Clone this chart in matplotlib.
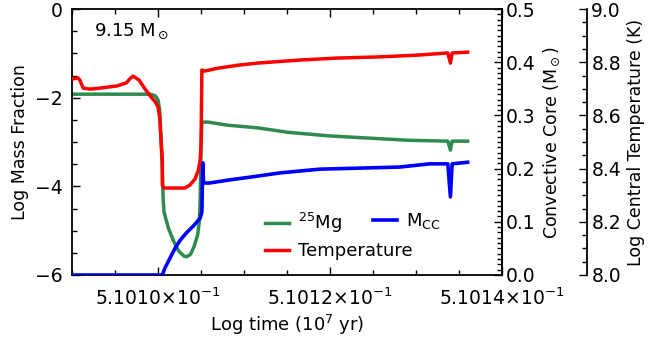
import numpy as np
import matplotlib.pyplot as plt
from matplotlib.ticker import MultipleLocator, AutoMinorLocator, FuncFormatter

# 25Mg log mass fraction (left axis)
mg_time = [0.5100900, 0.5100991, 0.5100997, 0.5101000, 0.5101002, 0.5101003, 0.5101005,
           0.5101006, 0.5101007, 0.5101012, 0.5101018, 0.5101024, 0.5101030, 0.5101033,
           0.5101038, 0.5101042, 0.5101046, 0.5101048, 0.5101049, 0.5101050, 0.5101051,
           0.5101058, 0.5101081, 0.5101116, 0.5101151, 0.5101198, 0.5101244, 0.5101291,
           0.5101337, 0.5101340, 0.5101342, 0.5101360]
mg_logx = [-1.92, -1.92, -1.96, -2.05, -2.28, -2.73, -3.63,
           -4.31, -4.58, -4.94, -5.23, -5.46, -5.57, -5.59,
           -5.53, -5.35, -5.10, -4.80, -4.31, -3.18, -2.55,
           -2.55, -2.62, -2.68, -2.78, -2.86, -2.91, -2.96,
           -2.98, -3.18, -2.98, -2.98]

# log central temperature (third axis)
t_time = [0.5100900, 0.5100907, 0.5100909, 0.5100913, 0.5100921, 0.5100933, 0.5100952,
          0.5100963, 0.5100967, 0.5100971, 0.5100978, 0.5100985, 0.5100991, 0.5100997,
          0.5101000, 0.5101002, 0.5101003, 0.5101005, 0.5101005, 0.5101007, 0.5101031,
          0.5101037, 0.5101043, 0.5101047, 0.5101049, 0.5101050, 0.5101051, 0.5101054,
          0.5101070, 0.5101093, 0.5101116, 0.5101163, 0.5101209, 0.5101256, 0.5101302,
          0.5101337, 0.5101340, 0.5101342, 0.5101360]
t_logtc = [8.737, 8.741, 8.733, 8.703, 8.699, 8.703, 8.711,
           8.722, 8.737, 8.748, 8.733, 8.699, 8.673, 8.650,
           8.632, 8.590, 8.534, 8.432, 8.338, 8.327, 8.327,
           8.338, 8.361, 8.395, 8.432, 8.489, 8.771, 8.767,
           8.778, 8.789, 8.797, 8.808, 8.816, 8.820, 8.827,
           8.835, 8.797, 8.835, 8.838]

# convective core mass (right axis)
cc_time = [0.5100900, 0.5101005, 0.5101008, 0.5101014, 0.5101020, 0.5101026, 0.5101034,
           0.5101041, 0.5101049, 0.5101051, 0.5101052, 0.5101053, 0.5101060, 0.5101084,
           0.5101107, 0.5101142, 0.5101188, 0.5101235, 0.5101281, 0.5101316, 0.5101337,
           0.5101340, 0.5101342, 0.5101360]
cc_mass = [0.0, 0.0, 0.013, 0.032, 0.051, 0.066, 0.081,
           0.092, 0.107, 0.118, 0.211, 0.173, 0.173, 0.179,
           0.184, 0.192, 0.199, 0.201, 0.203, 0.209, 0.209,
           0.147, 0.209, 0.212]

green = '#2e8b4f'
tick_fs = 13.5
label_fs = 12.5

fig, ax = plt.subplots(figsize=(6.49, 3.37), dpi=100)
fig.subplots_adjust(left=0.111, right=0.7735, bottom=0.184, top=0.973)
ax2 = ax.twinx()
ax3 = ax.twinx()
ax3.spines['right'].set_position(('axes', 1.198))
for a in (ax2, ax3):
    a.spines['top'].set_visible(False)
    a.spines['bottom'].set_visible(False)
    a.spines['left'].set_visible(False)

l1, = ax.plot(mg_time, mg_logx, color=green, lw=2.5, label=r'$^{25}$Mg')
l2, = ax2.plot(cc_time, cc_mass, color='#0000ff', lw=2.6, label=r'M$_{\mathrm{CC}}$')
l3, = ax3.plot(t_time, t_logtc, color='#ff0000', lw=2.5, label='Temperature')

ax.set_xlim(0.51009, 0.51014)
ax.set_ylim(-6, 0)
ax2.set_ylim(0, 0.5)
ax3.set_ylim(8.0, 9.0)

ax.xaxis.set_major_locator(MultipleLocator(0.00002))
ax.xaxis.set_minor_locator(MultipleLocator(0.000005))
ax.xaxis.set_major_formatter(FuncFormatter(lambda v, p: r'$%.4f{\times}10^{-1}$' % (v * 10)))
ax.yaxis.set_major_locator(MultipleLocator(2))
ax.yaxis.set_minor_locator(MultipleLocator(0.5))
ax2.yaxis.set_major_locator(MultipleLocator(0.1))
ax2.yaxis.set_minor_locator(AutoMinorLocator(10))
ax2.yaxis.set_major_formatter(FuncFormatter(lambda v, p: '%.1f' % v))
ax3.yaxis.set_major_locator(MultipleLocator(0.2))
ax3.yaxis.set_minor_locator(MultipleLocator(0.05))
ax3.yaxis.set_major_formatter(FuncFormatter(lambda v, p: '%.1f' % v))

ax.tick_params(which='both', direction='in', top=True, labelsize=tick_fs)
ax.tick_params(axis='x', pad=9)
ax.tick_params(axis='y', pad=7)
ax.tick_params(which='major', length=6, width=1)
ax.tick_params(which='minor', length=3.5, width=1)
for a in (ax2, ax3):
    a.tick_params(which='both', direction='in', labelsize=tick_fs, pad=3)
    a.tick_params(which='major', length=6, width=1)
    a.tick_params(which='minor', length=3.5, width=1)
for a in (ax, ax2, ax3):
    for s in a.spines.values():
        s.set_linewidth(1.3)

ax.set_xlabel(r'Log time (10$^7$ yr)', fontsize=label_fs + 0.5, labelpad=3)
ax.set_ylabel('Log Mass Fraction', fontsize=label_fs, labelpad=4)
ax2.set_ylabel(r'Convective Core (M$_\odot$)', fontsize=label_fs, labelpad=4)
ax3.set_ylabel('Log Central Temperature (K)', fontsize=label_fs, labelpad=4)

ax.text(0.05, 0.90, r'9.15 M$_\odot$', transform=ax.transAxes, fontsize=13)

leg_kw = dict(frameon=False, fontsize=13, handlelength=1.35, handletextpad=0.45,
              labelspacing=0.4, borderpad=0, borderaxespad=0, loc='upper left')
leg1 = ax3.legend([l1, l3], [l1.get_label(), l3.get_label()],
                  bbox_to_anchor=(0.449, 0.241), **leg_kw)
ax3.add_artist(leg1)
ax3.legend([l2], [l2.get_label()], bbox_to_anchor=(0.70, 0.241), **leg_kw)

fig.savefig('out.png', dpi=100)
